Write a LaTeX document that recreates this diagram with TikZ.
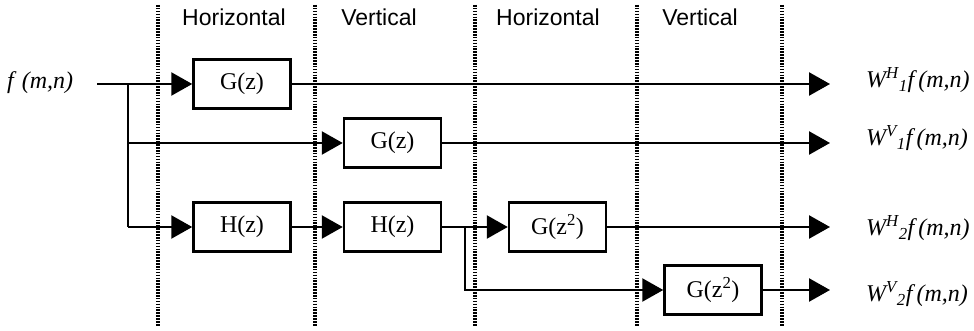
\documentclass[tikz,border=0pt]{standalone}
\usepackage{fontspec}
\setmainfont{Liberation Serif}
\newfontfamily\headfont{Liberation Sans}
\usetikzlibrary{arrows.meta}
\begin{document}
\begin{tikzpicture}[x=1pt,y=-1pt,
  filt/.style={draw,line width=2.5pt,minimum width=97pt,minimum height=49pt,inner sep=0pt,
    font=\fontsize{24}{26}\selectfont},
  sig/.style={line width=2.5pt},
  arr/.style={sig,-{Triangle[length=21pt,width=23pt]}},
  sep/.style={line width=3.2pt,dash pattern=on 1.6pt off 1.3pt},
  head/.style={font=\headfont\fontsize{23}{26}\selectfont,inner sep=0pt},
  lab/.style={font=\itshape\fontsize{24}{26}\selectfont,anchor=west,inner sep=0pt}]
\useasboundingbox (0,0) rectangle (974,331);

% stage separators
\foreach \x in {158,315,475,637,782}
  \draw[sep] (\x,5) -- (\x,326);

% stage headings
\node[head] (t1) at (234,17) {Horizontal};
\node[head] (t2) at (379,17) {Vertical};
\node[head] (t3) at (548,17) {Horizontal};
\node[head] (t4) at (700,17) {Vertical};

% filter blocks
\node[filt] (g1) at (242,84)    {G(z)};
\node[filt] (g2) at (392.5,143) {G(z)};
\node[filt] (h1) at (242,227)   {H(z)};
\node[filt] (h2) at (392.5,227) {H(z)};
\node[filt] (g3) at (557.5,227) {G(z\textsuperscript{2})};
\node[filt] (g4) at (713,290)   {G(z\textsuperscript{2})};

% input and branch points
\node[lab] (fin) at (7,83) {f\,\,(m,n)};
\coordinate (in) at (97,84);
\coordinate (b1) at (128,84);
\coordinate (b1m) at (128,143);
\coordinate (b1b) at (128,227);
\coordinate (b2) at (465,227);
\coordinate (b2b) at (465,290);

% output ends
\coordinate (o1) at (830,84);
\coordinate (o2) at (830,143);
\coordinate (o3) at (830,227);
\coordinate (o4) at (830,290);

% signal paths
\draw[arr] (in) -- (g1.west);
\draw[sig] (b1) -- (b1b);
\draw[arr] (b1m) -- (g2.west);
\draw[arr] (b1b) -- (h1.west);
\draw[arr] (h1.east) -- (h2.west);
\draw[arr] (h2.east) -- (g3.west);
\draw[arr] (b2) |- (g4.west);

\draw[arr] (g1.east) -- (o1);
\draw[arr] (g2.east) -- (o2);
\draw[arr] (g3.east) -- (o3);
\draw[arr] (g4.east) -- (o4);

% output labels
\node[lab] (l1) at (866,80)  {W\textsuperscript{H}\textsubscript{1}f\,(m,n)};
\node[lab] (l2) at (866,138) {W\textsuperscript{V}\textsubscript{1}f\,(m,n)};
\node[lab] (l3) at (866,228) {W\textsuperscript{H}\textsubscript{2}f\,(m,n)};
\node[lab] (l4) at (866,294) {W\textsuperscript{V}\textsubscript{2}f\,(m,n)};
\end{tikzpicture}
\end{document}
